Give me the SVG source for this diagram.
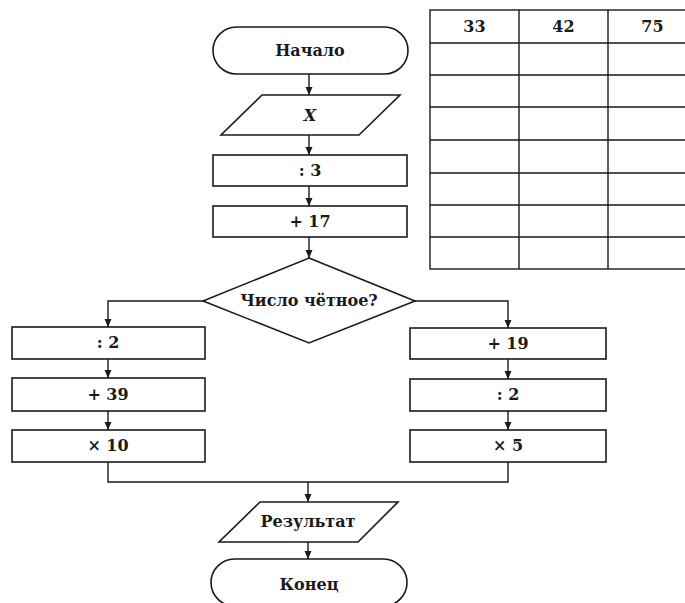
<svg xmlns="http://www.w3.org/2000/svg" width="685" height="603" viewBox="0 0 685 603">
<style>
.s{fill:#fff;stroke:#1a1a1a;stroke-width:1.6}
.c{fill:none;stroke:#1a1a1a;stroke-width:1.4}
.t{font-family:"DejaVu Serif","Liberation Serif",serif;font-weight:bold;font-size:16px;fill:#1a1a1a;text-anchor:middle}
.g{stroke:#1a1a1a;stroke-width:1.4;fill:none}
</style>
<defs>
<marker id="a" viewBox="0 0 8 10" refX="8" refY="5" markerWidth="8" markerHeight="10" markerUnits="userSpaceOnUse" orient="auto">
<path d="M0,1.5 L8,5 L0,8.5 Z" fill="#1a1a1a"/>
</marker>
</defs>
<rect width="685" height="603" fill="#fff"/>
<g id="connectors">
<path class="c" d="M309,74 V95" marker-end="url(#a)"/>
<path class="c" d="M309,135 V155" marker-end="url(#a)"/>
<path class="c" d="M309,186 V206" marker-end="url(#a)"/>
<path class="c" d="M309,237 V258" marker-end="url(#a)"/>
<path class="c" d="M203,301 H108 V327" marker-end="url(#a)"/>
<path class="c" d="M415,301 H508 V328" marker-end="url(#a)"/>
<path class="c" d="M108,359 V378" marker-end="url(#a)"/>
<path class="c" d="M108,411 V430" marker-end="url(#a)"/>
<path class="c" d="M508,359 V379" marker-end="url(#a)"/>
<path class="c" d="M508,411 V430" marker-end="url(#a)"/>
<path class="c" d="M108,462 V482 H508 V462"/>
<path class="c" d="M308,482 V502" marker-end="url(#a)"/>
<path class="c" d="M308,542 V559" marker-end="url(#a)"/>
</g>
<g id="start"><rect class="s" x="213" y="27" width="195" height="47" rx="23.5"/><text class="t" x="310" y="56">Начало</text></g>
<g id="input"><polygon class="s" points="262,95 400,95 359,135 221,135"/><text class="t" x="310" y="121" font-style="italic">X</text></g>
<g id="div3"><rect class="s" x="213" y="155" width="194" height="31"/><text class="t" x="310" y="176">: 3</text></g>
<g id="plus17"><rect class="s" x="213" y="206" width="194" height="31"/><text class="t" x="310" y="227">+ 17</text></g>
<g id="decision"><polygon class="s" points="309,258 415,301 309,343 203,301"/><text class="t" x="309" y="306">Число чётное?</text></g>
<g id="div2L"><rect class="s" x="12" y="327" width="193" height="32"/><text class="t" x="108" y="348">: 2</text></g>
<g id="plus39"><rect class="s" x="12" y="378" width="193" height="33"/><text class="t" x="108" y="400">+ 39</text></g>
<g id="times10"><rect class="s" x="12" y="430" width="193" height="32"/><text class="t" x="108" y="451">× 10</text></g>
<g id="plus19"><rect class="s" x="410" y="328" width="196" height="31"/><text class="t" x="508" y="349">+ 19</text></g>
<g id="div2R"><rect class="s" x="410" y="379" width="196" height="32"/><text class="t" x="508" y="400">: 2</text></g>
<g id="times5"><rect class="s" x="410" y="430" width="196" height="32"/><text class="t" x="508" y="451">× 5</text></g>
<g id="result"><polygon class="s" points="260,502 398,502 358,542 219,542"/><text class="t" x="308" y="527">Результат</text></g>
<g id="end"><rect class="s" x="211" y="559" width="196" height="47" rx="23.5"/><text class="t" x="309" y="590">Конец</text></g>
<g id="table">
<rect class="g" x="430" y="10" width="267" height="259"/>
<path class="g" d="M519,10 V269 M608,10 V269 M430,43 H697 M430,75 H697 M430,107 H697 M430,140 H697 M430,173 H697 M430,205 H697 M430,237 H697"/>
<text class="t" x="474.5" y="32">33</text>
<text class="t" x="563.5" y="32">42</text>
<text class="t" x="652.5" y="32">75</text>
</g>
</svg>
